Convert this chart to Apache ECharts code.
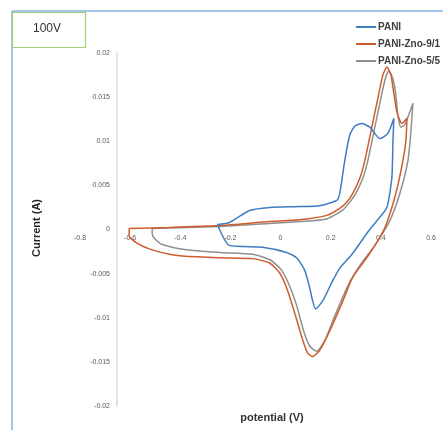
<!DOCTYPE html>
<html>
<head>
<meta charset="utf-8">
<script src="https://cdn.jsdelivr.net/npm/echarts@6/dist/echarts.min.js"></script>
<style>html,body{margin:0;padding:0;background:#fff;}#chart{width:443px;height:430px;}</style>
</head>
<body>
<div id="chart"></div>
<script>
// Series names
const seriesNames = ['PANI', 'PANI-Zno-9/1', 'PANI-Zno-5/5'];

// PANI loop: potential (V) and current (A)
const paniV = [-0.252,-0.204,-0.124,-0.044,0.076,0.156,0.224,0.236,0.256,0.276,0.296,0.324,0.356,0.396,0.428,0.452,
  0.448,0.444,0.424,0.384,0.344,0.288,0.236,0.208,0.168,0.140,0.128,0.116,0.096,0.064,0.024,-0.072,-0.204,-0.252];
const paniI = [0.00057,0.00079,0.00215,0.0025,0.0026,0.0027,0.0033,0.0041,0.0078,0.0107,0.0117,0.0120,0.0116,0.0103,0.0109,0.0126,
  0.0098,0.0059,0.0025,0.0010,-0.00045,-0.0027,-0.0044,-0.0058,-0.0081,-0.0090,-0.0081,-0.0066,-0.0046,-0.0032,-0.0026,-0.0020,-0.0018,0.00057];

// PANI-Zno-9/1 loop
const zno91V = [-0.604,-0.444,-0.244,-0.044,0.076,0.184,0.236,0.264,0.288,0.316,0.336,0.364,0.392,0.408,0.424,0.440,0.452,0.464,0.484,0.504,
  0.500,0.488,0.460,0.416,0.356,0.288,0.244,0.196,0.156,0.128,0.108,0.088,0.060,0.028,-0.004,-0.044,-0.112,-0.244,-0.392,-0.444,-0.524,-0.576,-0.604,-0.604];
const zno91I = [0.00011,0.00023,0.00045,0.0009,0.0011,0.0016,0.0024,0.0031,0.0041,0.0058,0.0078,0.0116,0.0154,0.0175,0.0184,0.0175,0.0154,0.0133,0.0120,0.0126,
  0.0101,0.0078,0.0041,0.0002,-0.0027,-0.0054,-0.0084,-0.0115,-0.0137,-0.0144,-0.0140,-0.0125,-0.0098,-0.0069,-0.0049,-0.0038,-0.0033,-0.0032,-0.0030,-0.0028,-0.0022,-0.0015,-0.0007,0.00011];

// PANI-Zno-5/5 loop
const zno55V = [-0.512,-0.244,-0.044,0.076,0.184,0.248,0.276,0.300,0.328,0.348,0.376,0.404,0.420,0.432,0.448,0.460,0.468,0.480,0.496,0.528,
  0.520,0.508,0.476,0.436,0.376,0.316,0.268,0.216,0.176,0.144,0.116,0.092,0.064,0.036,0.004,-0.044,-0.112,-0.244,-0.376,-0.472,-0.500,-0.512,-0.512];
const zno55I = [0.00011,0.00034,0.00068,0.0009,0.0012,0.0022,0.0031,0.0041,0.0058,0.0078,0.0116,0.0154,0.0173,0.0180,0.0171,0.0152,0.0129,0.0116,0.0119,0.0143,
  0.0112,0.0078,0.0041,0.0010,-0.0018,-0.0041,-0.0064,-0.0098,-0.0126,-0.0138,-0.0132,-0.0115,-0.0086,-0.0064,-0.0046,-0.0034,-0.0028,-0.0026,-0.0023,-0.0017,-0.0011,-0.0005,0.00011];

// Axis ticks
const xMin = -0.8, xMax = 0.6, xStep = 0.2;
const yMin = -0.02, yMax = 0.02, yStep = 0.005;

const colors = ['#3f7dc1', '#cf5c2c', '#8f8f8f'];
const zip = (a, b) => a.map((v, i) => [v, b[i]]);
const allData = [zip(paniV, paniI), zip(zno91V, zno91I), zip(zno55V, zno55I)];

const gridTop = 53, gridBottom = 24, chartH = 430;
const gridH = chartH - gridTop - gridBottom;
const zeroOffset = -gridH * (0 - yMin) / (yMax - yMin); // move x axis up to the zero line

const chart = echarts.init(document.getElementById('chart'), null, {renderer: 'canvas'});
chart.setOption({
  animation: false,
  backgroundColor: '#ffffff',
  grid: {left: 80, right: 12, top: gridTop, bottom: gridBottom, containLabel: false},
  legend: {
    orient: 'vertical', left: 351, top: 16, itemGap: 5, icon: 'rect', itemWidth: 20, itemHeight: 2,
    textStyle: {fontSize: 10, fontWeight: 'bold', color: '#404040', fontFamily: 'Liberation Sans', padding: [0,0,0,-3], lineHeight: 12},
    data: seriesNames
  },
  xAxis: {
    type: 'value', min: xMin, max: xMax, interval: xStep, position: 'bottom', offset: zeroOffset,
    axisLine: {show: false, onZero: false},
    axisTick: {show: false}, splitLine: {show: false},
    axisLabel: {fontSize: 7, color: '#595959', margin: 5, fontFamily: 'Liberation Sans'}
  },
  yAxis: {
    type: 'value', min: yMin, max: yMax, interval: yStep, offset: -37,
    axisLine: {show: true, onZero: false, lineStyle: {color: '#d9d9d9', width: 1.5}},
    axisTick: {show: false}, splitLine: {show: false},
    axisLabel: {fontSize: 7, color: '#595959', margin: 7, fontFamily: 'Liberation Sans'}
  },
  series: seriesNames.map((n, i) => ({
    name: n, type: 'line', data: allData[i], showSymbol: false, symbol: 'none', smooth: 0.2,
    lineStyle: {color: colors[i], width: 1.5}, itemStyle: {color: colors[i]}, z: 3 - i
  })),
  graphic: [
    {type: 'line', shape: {x1: 12, y1: 11, x2: 443, y2: 11}, style: {stroke: '#a3c4e8', lineWidth: 2}},
    {type: 'line', shape: {x1: 12, y1: 11, x2: 12, y2: 430}, style: {stroke: '#a3c4e8', lineWidth: 2}},
    {type: 'rect', shape: {x: 12.5, y: 12.5, width: 73, height: 35}, style: {fill: '#fff', stroke: '#9fd07a', lineWidth: 1.2}},
    {type: 'text', x: 47, y: 29, style: {text: '100V', fontSize: 12, fill: '#333', align: 'center', verticalAlign: 'middle', fontFamily: 'Liberation Sans'}},
    {type: 'text', x: 37, y: 228, rotation: Math.PI / 2, style: {text: 'Current (A)', fontSize: 11, fontWeight: 'bold', fill: '#262626', align: 'center', verticalAlign: 'middle', fontFamily: 'Liberation Sans'}},
    {type: 'text', x: 272, y: 418, style: {text: 'potential (V)', fontSize: 11, fontWeight: 'bold', fill: '#333', align: 'center', verticalAlign: 'middle', fontFamily: 'Liberation Sans'}}
  ]
});
</script>
</body>
</html>
